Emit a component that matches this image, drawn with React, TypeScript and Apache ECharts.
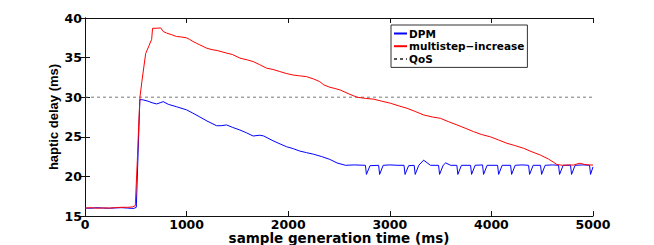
import React, { useEffect, useRef } from "react";
import * as echarts from "echarts";

const xTicks = [0, 1000, 2000, 3000, 4000, 5000];
const yTicks = [15, 20, 25, 30, 35, 40];

const redX = [0, 60, 120, 180, 240, 300, 360, 420, 470, 495, 515, 530, 541, 560, 597, 630, 656, 665, 700, 745, 770, 803, 850, 900, 950, 997, 1030, 1062, 1100, 1131, 1196, 1250, 1300, 1393, 1450, 1524, 1600, 1655, 1720, 1786, 1850, 1917, 1980, 2048, 2110, 2180, 2250, 2310, 2350, 2409, 2460, 2514, 2600, 2677, 2760, 2842, 2920, 3006, 3090, 3170, 3250, 3333, 3420, 3497, 3580, 3661, 3740, 3825, 3900, 3989, 4070, 4153, 4230, 4317, 4400, 4481, 4560, 4610, 4645, 4700, 4760, 4808, 4850, 4874, 4920, 4960, 5000];
const redY = [16.0, 16.05, 15.98, 16.02, 16.0, 16.05, 16.1, 16.1, 16.15, 16.3, 22.0, 27.0, 30.0, 32.0, 35.5, 36.5, 37.3, 38.7, 38.7, 38.75, 38.3, 38.1, 37.9, 37.67, 37.6, 37.5, 37.3, 37.04, 36.8, 36.6, 36.2, 36.0, 35.9, 35.57, 35.4, 34.94, 34.7, 34.5, 34.1, 33.67, 33.5, 33.24, 33.0, 32.8, 32.7, 32.6, 32.3, 31.97, 31.56, 31.26, 31.1, 30.9, 30.4, 30.0, 29.85, 29.75, 29.5, 29.24, 28.9, 28.6, 28.2, 27.76, 27.5, 27.34, 26.9, 26.5, 26.1, 25.65, 25.3, 25.0, 24.6, 24.18, 23.9, 23.55, 23.1, 22.7, 22.2, 21.8, 21.5, 21.4, 21.45, 21.43, 21.6, 21.65, 21.5, 21.45, 21.43];

const blueX = [0, 60, 120, 180, 240, 300, 360, 420, 480, 505, 540, 573, 620, 660, 705, 740, 770, 820, 900, 1000, 1060, 1131, 1200, 1295, 1340, 1393, 1450, 1524, 1590, 1655, 1721, 1760, 1850, 1920, 1983, 2050, 2114, 2180, 2250, 2330, 2409, 2480, 2564, 2650,
  2760, 2770, 2805, 2890, 2900, 2935, 3000, 3080, 3140, 3150, 3185, 3240, 3250, 3285, 3333, 3400, 3480, 3490, 3525, 3550, 3600, 3660, 3670, 3705, 3795, 3805, 3840, 3913, 3923, 3958, 4061, 4071, 4106, 4189, 4199, 4234, 4300, 4366, 4376, 4411, 4484, 4494, 4529, 4600, 4661, 4671, 4706, 4779, 4789, 4824, 4900, 4966, 4976, 5000];
const blueY = [16.0, 15.98, 16.05, 16.0, 15.98, 16.02, 16.05, 16.0, 15.95, 16.1, 29.7, 29.66, 29.5, 29.3, 29.15, 29.3, 29.44, 29.1, 28.8, 28.4, 28.0, 27.5, 27.0, 26.4, 26.4, 26.5, 26.2, 25.86, 25.5, 25.1, 25.2, 25.1, 24.5, 24.1, 23.75, 23.5, 23.2, 23.0, 22.8, 22.5, 22.15, 21.7, 21.4, 21.45,
  21.4, 20.25, 21.35, 21.4, 20.25, 21.4, 21.45, 21.4, 21.4, 20.25, 21.35, 21.4, 20.25, 21.4, 22.05, 21.4, 21.4, 20.25, 21.4, 21.7, 21.4, 21.4, 20.25, 21.4, 21.4, 20.25, 21.4, 21.45, 20.25, 21.4, 21.4, 20.25, 21.4, 21.4, 20.25, 21.4, 21.45, 21.4, 20.25, 21.4, 21.4, 20.25, 21.4, 21.45, 21.4, 20.25, 21.4, 21.4, 20.25, 21.4, 21.45, 21.4, 20.25, 21.2];

const qosX = [0, 5000];
const qosY = [30, 30];

const zip = (xs: number[], ys: number[]) => xs.map((x, i) => [x, ys[i]]);

const axisFont = {
  fontFamily: "DejaVu Sans",
  fontWeight: "bold" as const,
  fontSize: 12.5,
  color: "#000",
};

export default function App() {
  const ref = useRef<HTMLDivElement>(null);
  useEffect(() => {
    if (!ref.current) return;
    const chart = echarts.init(ref.current, undefined, { renderer: "svg" });
    const lineAxis = { show: true, lineStyle: { color: "#111", width: 1 } };
    const tick = { show: true, inside: true, length: 5, lineStyle: { color: "#111" } };
    const plain = (v: number) => String(v);
    chart.setOption({
      animation: false,
      backgroundColor: "#fff",
      grid: { left: 85, right: 61, top: 18, bottom: 29, containLabel: false, outerBoundsMode: "none" },
      legend: {
        orient: "vertical",
        left: 391,
        top: 25,
        width: 131,
        padding: [3, 3, 3, 2],
        itemWidth: 13,
        itemHeight: 10,
        itemGap: 1.7,
        borderColor: "#333",
        borderWidth: 1,
        backgroundColor: "#fff",
        itemStyle: { opacity: 0 },
        textStyle: { fontFamily: "DejaVu Sans", fontWeight: "bold", fontSize: 10.5, color: "#000", padding: [0, 0, 0, -3] },
        data: ["DPM", "multistep\u2212increase", "QoS"],
      },
      xAxis: [
        {
          type: "value",
          min: xTicks[0],
          max: xTicks[xTicks.length - 1],
          interval: 1000,
          position: "bottom",
          axisLine: lineAxis,
          axisTick: tick,
          splitLine: { show: false },
          axisLabel: { ...axisFont, margin: 2, lineHeight: 12, formatter: plain },
          name: "sample generation time (ms)",
          nameLocation: "middle",
          nameGap: 15,
          nameMoveOverlap: false,
          nameTextStyle: { fontFamily: "DejaVu Sans", fontWeight: "bold", fontSize: 13.5, lineHeight: 14, color: "#000" },
        },
        {
          type: "value",
          min: xTicks[0],
          max: xTicks[xTicks.length - 1],
          interval: 1000,
          position: "top",
          axisLine: lineAxis,
          axisTick: tick,
          splitLine: { show: false },
          axisLabel: { show: false },
        },
      ],
      yAxis: [
        {
          type: "value",
          min: yTicks[0],
          max: yTicks[yTicks.length - 1],
          interval: 5,
          position: "left",
          axisLine: lineAxis,
          axisTick: tick,
          splitLine: { show: false },
          axisLabel: { ...axisFont, margin: 3, formatter: plain },
          name: "haptic delay (ms)",
          nameLocation: "middle",
          nameGap: 25,
          nameMoveOverlap: false,
          nameTextStyle: { fontFamily: "Liberation Sans", fontWeight: "bold", fontSize: 13, color: "#000" },
        },
        {
          type: "value",
          min: yTicks[0],
          max: yTicks[yTicks.length - 1],
          interval: 5,
          position: "right",
          axisLine: lineAxis,
          axisTick: tick,
          splitLine: { show: false },
          axisLabel: { show: false },
        },
      ],
      series: [
        {
          name: "DPM",
          type: "line",
          data: zip(blueX, blueY),
          symbol: "none",
          lineStyle: { color: "#0000ff", width: 1 },
          itemStyle: { color: "#0000ff" },
          z: 3,
        },
        {
          name: "multistep\u2212increase",
          type: "line",
          data: zip(redX, redY),
          symbol: "none",
          lineStyle: { color: "#ff0000", width: 1 },
          itemStyle: { color: "#ff0000" },
          z: 4,
        },
        {
          name: "QoS",
          type: "line",
          data: zip(qosX, qosY),
          symbol: "none",
          lineStyle: { color: "#555", width: 0.8, type: [3, 3] },
          itemStyle: { color: "#555" },
          z: 2,
        },
      ],
    });
    return () => chart.dispose();
  }, []);
  return (
    <div
      ref={ref}
      style={{ position: "fixed", left: 0, top: 0, width: 654, height: 245, background: "#fff" }}
    />
  );
}
